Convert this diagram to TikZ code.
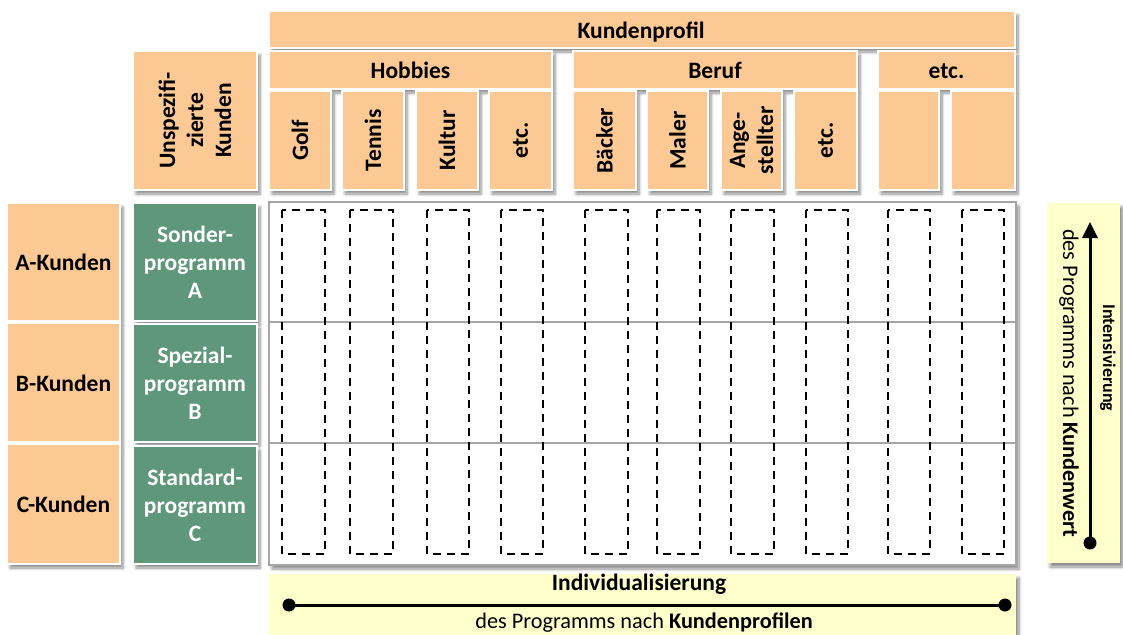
\documentclass[tikz,border=0pt]{standalone}
\usepackage{fontspec}
\setmainfont{Carlito}
\usetikzlibrary{shadows.blur,arrows.meta}

\definecolor{peach}{HTML}{FCC995}
\definecolor{sage}{HTML}{5F977B}
\definecolor{cream}{HTML}{FFFFCC}
\definecolor{rulegray}{HTML}{A6A6A6}

\tikzset{
  shade/.style={blur shadow={shadow xshift=3pt, shadow yshift=-4pt,
      shadow blur radius=3pt, shadow blur steps=6, shadow opacity=45}},
  cell/.style={shade, fill=peach, draw=white, line width=1.5pt, inner sep=0pt},
  prog/.style={cell, fill=sage},
  note/.style={shade, fill=cream, draw=none, inner sep=0pt},
  matrixbox/.style={shade, fill=white, draw=rulegray, line width=1.5pt, inner sep=0pt},
  lbl/.style={font=\fontsize{23.5}{28}\selectfont\bfseries, align=center, inner sep=0pt},
  vlbl/.style={lbl, rotate=90},
  slot/.style={draw=black, line width=1.8pt, dash pattern=on 8pt off 6pt},
  divider/.style={draw=rulegray, line width=1.5pt},
  axis/.style={line width=3pt, draw=black},
}

% box from (x1,y1) to (x2,y2): style, name, x1, y1, x2, y2
\newcommand\cellbox[6]{%
  \node[#1, minimum width={#5-#3}, minimum height={#6-#4}] (#2)
    at ({(#3+#5)/2},{(#4+#6)/2}) {};}

\begin{document}
\begin{tikzpicture}[x=1pt,y=-1pt]
\useasboundingbox (0,0) rectangle (1123,634);

% header: customer profile
\cellbox{cell}{profil}{269}{11}{1015}{48}
\node[lbl, anchor=base] (profilT) at (641,39) {Kundenprofil};

\cellbox{cell}{hobbies}{269}{51}{552}{89}
\node[lbl, anchor=base] (hobbiesT) at (hobbies.center |- 0,78) {Hobbies};
\cellbox{cell}{beruf}{573}{51}{857}{89}
\node[lbl, anchor=base] (berufT) at (beruf.center |- 0,78) {Beruf};
\cellbox{cell}{etcg}{878}{51}{1015}{89}
\node[lbl, anchor=base] (etcgT) at (etcg.center |- 0,78) {etc.};

\cellbox{cell}{unspez}{133}{51}{257}{190}
\node[vlbl] (unspezT) at (unspez.center) {Unspezifi-\\zierte\\Kunden};

% sub-categories
\cellbox{cell}{golf}{269}{91}{331}{190}
\node[vlbl] (golfT) at (golf.center) {Golf};
\cellbox{cell}{tennis}{342}{91}{404}{190}
\node[vlbl] (tennisT) at (tennis.center) {Tennis};
\cellbox{cell}{kultur}{416}{91}{478}{190}
\node[vlbl] (kulturT) at (kultur.center) {Kultur};
\cellbox{cell}{hetc}{489}{91}{552}{190}
\node[vlbl] (hetcT) at (hetc.center) {etc.};
\cellbox{cell}{baecker}{573}{91}{636}{190}
\node[vlbl] (baeckerT) at (baecker.center) {Bäcker};
\cellbox{cell}{maler}{647}{91}{708}{190}
\node[vlbl] (malerT) at (maler.center) {Maler};
\cellbox{cell}{angest}{721}{91}{782}{190}
\node[vlbl] (angestT) at (angest.center) {Ange-\\stellter};
\cellbox{cell}{betc}{794}{91}{857}{190}
\node[vlbl] (betcT) at (betc.center) {etc.};
\cellbox{cell}{eone}{878}{91}{939}{190}
\cellbox{cell}{etwo}{951}{91}{1015}{190}

% customer classes
\cellbox{cell}{ka}{7}{203}{120}{321}
\node[lbl, anchor=base] (kaT) at (ka.center |- 0,270) {A-Kunden};
\cellbox{cell}{kb}{7}{323}{120}{442}
\node[lbl, anchor=base] (kbT) at (kb.center |- 0,391) {B-Kunden};
\cellbox{cell}{kc}{7}{444}{120}{564}
\node[lbl, anchor=base] (kcT) at (kc.center |- 0,512) {C-Kunden};

% programmes
\cellbox{prog}{pa}{133}{203}{257}{321}
\node[lbl, text=white] (paT) at (pa.center) {Sonder-\\programm\\A};
\cellbox{prog}{pb}{133}{324}{257}{442}
\node[lbl, text=white] (pbT) at (pb.center) {Spezial-\\programm\\B};
\cellbox{prog}{pc}{133}{446}{257}{564}
\node[lbl, text=white] (pcT) at (pc.center) {Standard-\\programm\\C};

% matrix
\cellbox{matrixbox}{grid}{269}{202}{1016}{565}
\coordinate (rowab) at (0,322);
\coordinate (rowbc) at (0,443);
\draw[divider] (grid.west |- rowab) -- (grid.east |- rowab);
\draw[divider] (grid.west |- rowbc) -- (grid.east |- rowbc);
\foreach \a/\b in {282/325, 350/393, 427/469, 501/543, 585/628,
                   657/700, 731/774, 806/848, 888/930, 962/1004}
  \draw[slot] (\a,210) rectangle (\b,554);

% vertical axis: intensification
\cellbox{note}{vnote}{1047}{203}{1120}{563}
\coordinate (vstart) at (1090,543);
\coordinate (vend) at (1090,222);
\draw[axis, -{Triangle[length=16pt,width=15pt]}] (vstart) -- (vend);
\fill (vstart) circle (6.5pt);
\node[font=\fontsize{18}{20}\selectfont\bfseries, rotate=-90, inner sep=0pt]
  (vnoteA) at (1108,358) {Intensivierung};
\node[font=\fontsize{22.3}{26}\selectfont, rotate=-90, inner sep=0pt]
  (vnoteB) at (1069,383) {des Programms nach \textbf{Kundenwert}};

% horizontal axis: individualisation
\cellbox{note}{hnote}{269}{574}{1016}{650}
\coordinate (hstart) at (289,605);
\coordinate (hend) at (1005,605);
\draw[axis] (hstart) -- (hend);
\fill (hstart) circle (6.5pt);
\fill (hend) circle (6.5pt);
\node[font=\fontsize{23.5}{28}\selectfont\bfseries, anchor=base, inner sep=0pt]
  (hnoteA) at (639,590) {Individualisierung};
\node[font=\fontsize{22.3}{26}\selectfont, anchor=base, inner sep=0pt]
  (hnoteB) at (644,628) {des Programms nach \textbf{Kundenprofilen}};
\end{tikzpicture}
\end{document}
